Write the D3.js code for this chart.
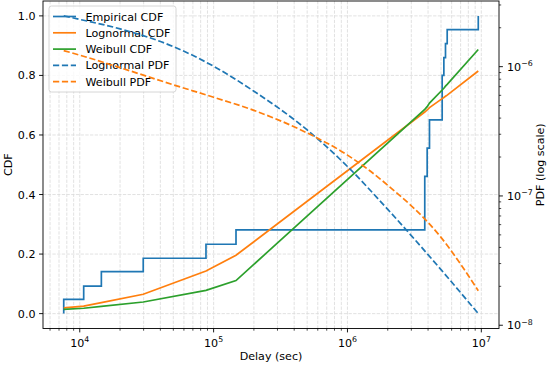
<!DOCTYPE html>
<html>
<head>
<meta charset="utf-8">
<script src="https://cdn.jsdelivr.net/npm/d3@7"></script>
<style>
  body { margin: 0; background: #fff; }
  text { font-family: "DejaVu Sans", sans-serif; fill: #000; }
</style>
</head>
<body>
<div id="chart"></div>
<script>
// empirical cdf, drawn as steps
var stepDelay = [7590, 7590, 10700, 14500, 29800, 87700, 147000, 3780000, 3940000, 4100000, 5100000, 5250000, 5400000, 5560000, 9490000];
var empCdf    = [0, 0.048, 0.092, 0.141, 0.186, 0.233, 0.281, 0.461, 0.556, 0.651, 0.80, 0.86, 0.907, 0.954, 1.0];

// fitted cdfs at the sample delays
var sampleDelay = [7590, 10700, 14500, 29800, 87700, 147000, 3780000, 3940000, 4100000, 5100000, 5250000, 5400000, 5560000, 9490000];
var lognormCdf  = [0.019, 0.025, 0.037, 0.065, 0.143, 0.196, 0.677, 0.684, 0.692, 0.722, 0.726, 0.730, 0.734, 0.815];
var weibullCdf  = [0.014, 0.018, 0.024, 0.039, 0.078, 0.111, 0.686, 0.695, 0.707, 0.751, 0.757, 0.764, 0.770, 0.887];

// fitted pdfs (right axis, log)
var pdfDelay   = [7590, 1e4, 2e4, 5e4, 1e5, 2e5, 5e5, 1e6, 2e6, 5e6, 9490000];
var lognormPdf = [2.47e-6, 2.32e-6, 1.96e-6, 1.43e-6, 1.007e-6, 6.46e-7, 3.24e-7, 1.69e-7, 7.87e-8, 2.69e-8, 1.23e-8];
var weibullPdf = [1.33e-6, 1.228e-6, 9.82e-7, 7.24e-7, 5.80e-7, 4.59e-7, 3.07e-7, 2.07e-7, 1.21e-7, 4.78e-8, 1.85e-8];

var legendLabels = ["Empirical CDF", "Lognormal CDF", "Weibull CDF", "Lognormal PDF", "Weibull PDF"];
var cdfTicks = [0, 0.2, 0.4, 0.6, 0.8, 1.0];

var W = 550, H = 366;
var margin = {top: 1, left: 43, right: 51, bottom: 37.5},
    width  = W - margin.left - margin.right,
    height = H - margin.top - margin.bottom;

var blue = "#1f77b4", orange = "#ff7f0e", green = "#2ca02c";

// matplotlib style 5% margins (in log space for the log axes)
function logPad(ext) {
  var a = Math.log10(ext[0]), b = Math.log10(ext[1]), p = (b - a) * 0.05;
  return [Math.pow(10, a - p), Math.pow(10, b + p)];
}

var x = d3.scaleLog().domain(logPad(d3.extent(stepDelay))).range([0, width]);
var y = d3.scaleLinear().domain([-0.05, 1.05]).range([height, 0]);
var y2 = d3.scaleLog().domain(logPad(d3.extent(lognormPdf.concat(weibullPdf)))).range([height, 0]);

var svg = d3.select("#chart").append("svg")
    .attr("width", W).attr("height", H);

var g = svg.append("g").attr("transform", "translate(" + margin.left + "," + margin.top + ")");

// minor/major log ticks
function logTicks(dom) {
  var major = [], minor = [];
  for (var e = Math.floor(Math.log10(dom[0])); e <= Math.ceil(Math.log10(dom[1])); e++) {
    for (var m = 1; m < 10; m++) {
      var v = m * Math.pow(10, e);
      if (v < dom[0] || v > dom[1]) continue;
      if (m === 1) major.push(v); else minor.push(v);
    }
  }
  return {major: major, minor: minor};
}
var xt = logTicks(x.domain()), y2t = logTicks(y2.domain());

// grid
var grid = g.append("g").attr("stroke", "#b0b0b0").attr("stroke-width", 0.8)
    .attr("stroke-dasharray", "3.3,1.4").attr("opacity", 0.45);
grid.selectAll(".gx").data(xt.major.concat(xt.minor)).enter().append("line")
    .attr("x1", function(d) { return x(d); }).attr("x2", function(d) { return x(d); })
    .attr("y1", 0).attr("y2", height);
grid.selectAll(".gy").data(cdfTicks).enter().append("line")
    .attr("x1", 0).attr("x2", width)
    .attr("y1", function(d) { return y(d); }).attr("y2", function(d) { return y(d); });

// cdf lines
var stepLine = d3.line().curve(d3.curveStepAfter)
    .x(function(d, i) { return x(stepDelay[i]); })
    .y(function(d) { return y(d); });
var cdfLine = d3.line()
    .x(function(d, i) { return x(sampleDelay[i]); })
    .y(function(d) { return y(d); });

g.append("path").attr("d", stepLine(empCdf)).attr("fill", "none").attr("stroke", blue).attr("stroke-width", 1.7);
g.append("path").attr("d", cdfLine(lognormCdf)).attr("fill", "none").attr("stroke", orange).attr("stroke-width", 1.7);
g.append("path").attr("d", cdfLine(weibullCdf)).attr("fill", "none").attr("stroke", green).attr("stroke-width", 1.7);

// legend (belongs to the left axes, pdf lines go over it)
var leg = g.append("g").attr("transform", "translate(6,5)");
leg.append("rect").attr("width", 127).attr("height", 86).attr("rx", 2.5)
    .attr("fill", "#fff").attr("fill-opacity", 0.8).attr("stroke", "#cccccc").attr("stroke-width", 0.8);
var legStyle = [[blue, null], [orange, null], [green, null], [blue, "6.2,2.7"], [orange, "6.2,2.7"]];
legendLabels.forEach(function(lab, i) {
  var yy = 10.5 + i * 16.3;
  leg.append("line").attr("x1", 4).attr("x2", 27).attr("y1", yy).attr("y2", yy)
     .attr("stroke", legStyle[i][0]).attr("stroke-width", 1.7)
     .attr("stroke-dasharray", legStyle[i][1]);
  leg.append("text").attr("x", 36.5).attr("y", yy + 4).attr("font-size", 11.1).text(lab);
});

// pdf lines on the twin axis
var pdfLine = d3.line().curve(d3.curveMonotoneX)
    .x(function(d, i) { return x(pdfDelay[i]); })
    .y(function(d) { return y2(d); });
g.append("path").attr("d", pdfLine(lognormPdf)).attr("fill", "none").attr("stroke", blue)
    .attr("stroke-width", 1.7).attr("stroke-dasharray", "6.2,2.7");
g.append("path").attr("d", pdfLine(weibullPdf)).attr("fill", "none").attr("stroke", orange)
    .attr("stroke-width", 1.7).attr("stroke-dasharray", "6.2,2.7");

// frame
g.append("rect").attr("width", width).attr("height", height)
    .attr("fill", "none").attr("stroke", "#000").attr("stroke-width", 0.9);

// x axis
var xa = g.append("g").attr("transform", "translate(0," + height + ")");
xa.selectAll(".mj").data(xt.major).enter().append("line")
    .attr("x1", function(d) { return x(d); }).attr("x2", function(d) { return x(d); })
    .attr("y1", 0).attr("y2", 3.9).attr("stroke", "#000").attr("stroke-width", 0.9);
xa.selectAll(".mn").data(xt.minor).enter().append("line")
    .attr("x1", function(d) { return x(d); }).attr("x2", function(d) { return x(d); })
    .attr("y1", 0).attr("y2", 2.2).attr("stroke", "#000").attr("stroke-width", 0.7);
xa.selectAll(".lb").data(xt.major).enter().append("text")
    .attr("x", function(d) { return x(d); }).attr("y", 18)
    .attr("text-anchor", "middle").attr("font-size", 11.1)
    .each(function(d) {
      var t = d3.select(this);
      t.append("tspan").text("10");
      t.append("tspan").attr("dy", -4.5).attr("font-size", 7.8).text(Math.round(Math.log10(d)));
    });
g.append("text").attr("x", width / 2).attr("y", height + 31).attr("text-anchor", "middle")
    .attr("font-size", 11.1).text("Delay (sec)");

// left y axis
var ya = g.append("g");
ya.selectAll("line").data(cdfTicks).enter().append("line")
    .attr("x1", -3.9).attr("x2", 0)
    .attr("y1", function(d) { return y(d); }).attr("y2", function(d) { return y(d); })
    .attr("stroke", "#000").attr("stroke-width", 0.9);
ya.selectAll("text").data(cdfTicks).enter().append("text")
    .attr("x", -7.5).attr("y", function(d) { return y(d) + 4; })
    .attr("text-anchor", "end").attr("font-size", 11.1)
    .text(function(d) { return d3.format(".1f")(d); });
g.append("text").attr("transform", "translate(" + (-31) + "," + (height / 2) + ") rotate(-90)")
    .attr("text-anchor", "middle").attr("font-size", 11.1).text("CDF");

// right y axis (log)
var ra = g.append("g").attr("transform", "translate(" + width + ",0)");
ra.selectAll(".mj").data(y2t.major).enter().append("line")
    .attr("x1", 0).attr("x2", 3.9)
    .attr("y1", function(d) { return y2(d); }).attr("y2", function(d) { return y2(d); })
    .attr("stroke", "#000").attr("stroke-width", 0.9);
ra.selectAll(".mn").data(y2t.minor).enter().append("line")
    .attr("x1", 0).attr("x2", 2.2)
    .attr("y1", function(d) { return y2(d); }).attr("y2", function(d) { return y2(d); })
    .attr("stroke", "#000").attr("stroke-width", 0.7);
ra.selectAll(".lb").data(y2t.major).enter().append("text")
    .attr("x", 8).attr("y", function(d) { return y2(d) + 4; })
    .attr("font-size", 11.1)
    .each(function(d) {
      var t = d3.select(this);
      t.append("tspan").text("10");
      t.append("tspan").attr("dy", -4.5).attr("font-size", 7.8)
        .text("\u2212" + Math.abs(Math.round(Math.log10(d))));
    });
g.append("text").attr("transform", "translate(" + (width + 45) + "," + (height / 2) + ") rotate(-90)")
    .attr("text-anchor", "middle").attr("font-size", 11.1).text("PDF (log scale)");
</script>
</body>
</html>
